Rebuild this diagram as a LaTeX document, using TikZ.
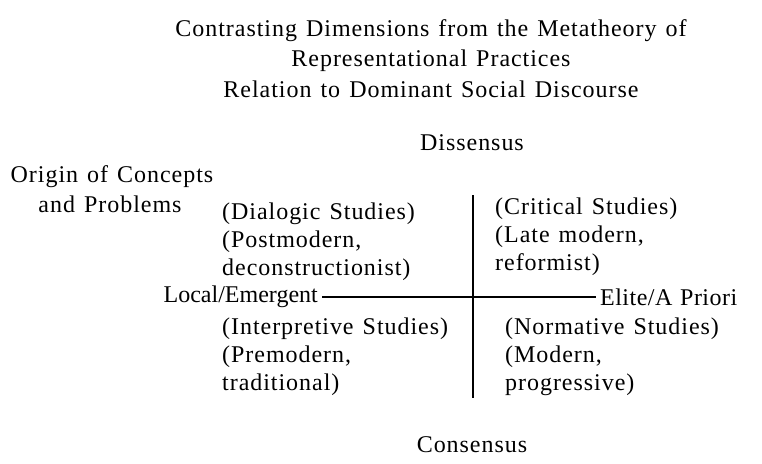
\documentclass[tikz,border=0pt]{standalone}
\usepackage{fontspec}
\setmainfont[LetterSpace=4,WordSpace=1.3]{Liberation Serif}
\newfontfamily\tightserif[LetterSpace=0,WordSpace=1.2]{Liberation Serif}
\newfontfamily\midserif[LetterSpace=2,WordSpace=1.2]{Liberation Serif}
\begin{document}
\begin{tikzpicture}[x=1pt,y=-1pt,
  lbl/.style={font=\fontsize{24}{28}\selectfont, inner sep=0pt},
  lft/.style={lbl, anchor=base west, align=left},
  axis/.style={line width=1.8pt}]
\useasboundingbox (0,0) rectangle (762,463);
\node[lbl, anchor=base] (t1) at (431,36) {Contrasting Dimensions from the Metatheory of};
\node[lbl, anchor=base] (t2) at (431,66) {Representational Practices};
\node[lbl, anchor=base] (t3) at (431,97) {Relation to Dominant Social Discourse};
\node[lbl, anchor=base] (dis) at (472,150) {Dissensus};
\node[lbl, anchor=base] (orig1) at (112,182) {Origin of Concepts};
\node[lbl, anchor=base] (orig2) at (110,212) {and Problems};
\node[lft] (q1a) at (222,219) {(Dialogic Studies)};
\node[lft] (q1b) at (222,247) {(Postmodern,};
\node[lft] (q1c) at (222,275) {deconstructionist)};
\node[lft] (q2a) at (495,214) {(Critical Studies)};
\node[lft] (q2b) at (495,242) {(Late modern,};
\node[lft] (q2c) at (495,270) {reformist)};
\node[lft] (q3a) at (222,334) {(Interpretive Studies)};
\node[lft] (q3b) at (222,362) {(Premodern,};
\node[lft] (q3c) at (222,390) {traditional)};
\node[lft] (q4a) at (505,334) {(Normative Studies)};
\node[lft] (q4b) at (505,362) {(Modern,};
\node[lft] (q4c) at (505,390) {progressive)};
\node[lbl, anchor=east, inner xsep=4pt, font=\fontsize{24}{28}\tightserif] (loc) at (322,297) {Local/Emergent};
\node[lbl, anchor=west, inner xsep=4pt, font=\fontsize{24}{28}\midserif] (eli) at (596,297) {Elite/A Priori};
\node[lbl, anchor=base] (con) at (472,452) {Consensus};
\coordinate (vt) at (473,195);
\coordinate (vb) at (473,398);
\draw[axis] (loc.east) -- (eli.west);
\draw[axis] (vt) -- (vb);
\end{tikzpicture}
\end{document}
